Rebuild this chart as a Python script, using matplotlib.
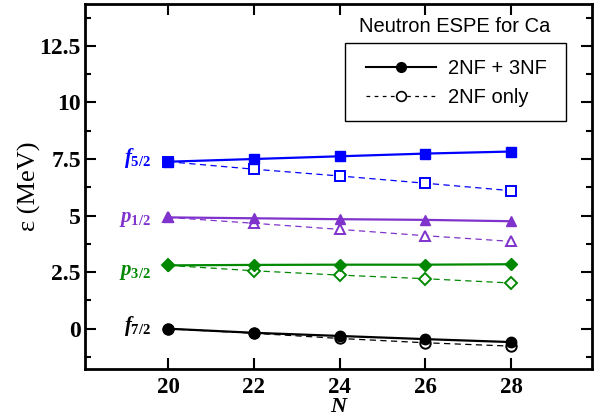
import matplotlib
matplotlib.use("Agg")
import matplotlib.pyplot as plt
from matplotlib.lines import Line2D
from matplotlib.patches import Rectangle

N = [20, 22, 24, 26, 28]

f52_full = [7.38, 7.50, 7.62, 7.74, 7.83]
f52_2nf = [7.38, 7.05, 6.75, 6.43, 6.10]
p12_full = [4.92, 4.88, 4.84, 4.81, 4.75]
p12_2nf = [4.92, 4.66, 4.39, 4.11, 3.86]
p32_full = [2.80, 2.82, 2.83, 2.83, 2.85]
p32_2nf = [2.80, 2.56, 2.37, 2.21, 2.02]
f72_full = [0.0, -0.18, -0.32, -0.46, -0.59]
f72_2nf = [0.0, -0.20, -0.43, -0.62, -0.77]

orbit_labels = [r'$f_{\rm 5/2}$', r'$p_{\rm 1/2}$', r'$p_{\rm 3/2}$', r'$f_{\rm 7/2}$']
legend_labels = ['2NF + 3NF', '2NF only']
title_text = 'Neutron ESPE for Ca'
x_ticks = [20, 22, 24, 26, 28]
y_ticks = [0, 2.5, 5, 7.5, 10, 12.5]
y_ticklabels = ['0', '2.5', '5', '7.5', '10', '12.5']

plt.rcParams['mathtext.fontset'] = 'custom'
plt.rcParams['mathtext.it'] = 'Liberation Serif:italic:bold'
plt.rcParams['mathtext.rm'] = 'Liberation Serif:bold'
plt.rcParams['mathtext.bf'] = 'Liberation Serif:bold'

W, H = 597, 416
fig = plt.figure(figsize=(W/100, H/100), dpi=100)
ax = fig.add_axes([85/W, 1-369/H, (592-85)/W, (369-4)/H])

series = [
    (f52_full, f52_2nf, '#0000ff', 's', 6.5, orbit_labels[0], 3),
    (p12_full, p12_2nf, '#7f33cc', '^', 7.5, orbit_labels[1], -1),
    (p32_full, p32_2nf, '#008800', 'D', 6.0, orbit_labels[2], -5),
    (f72_full, f72_2nf, '#000000', 'o', 7.5, orbit_labels[3], 2),
]

for full, two, color, mk, ms, lab, dy in series:
    ax.plot(N, two, color=color, lw=0.9, ls=(0, (5, 3.5)), marker=mk, ms=ms,
            mfc='white', mec=color, mew=1.4, zorder=2)
    ax.plot(N, full, color=color, lw=1.6, ls='-', marker=mk, ms=ms,
            mfc=color, mec=color, zorder=3)
    ax.annotate(lab, xy=(N[0], full[0]), xytext=(-12, dy), textcoords='offset points',
                ha='right', va='center', color=color, fontsize=15)

ax.set_xlim(18.06, 29.89)
ax.set_ylim(-1.78, 14.35)
ax.set_xticks(x_ticks)
ax.set_yticks(y_ticks)
ax.set_yticklabels(y_ticklabels)
ax.set_yticks([v + 1.25 for v in [-2.5, 0, 2.5, 5, 7.5, 10, 12.5]], minor=True)
ax.tick_params(axis='both', which='major', direction='in', length=8, width=1.5,
               top=True, right=True)
ax.tick_params(axis='x', which='major', pad=6)
ax.tick_params(axis='y', which='major', pad=3)
ax.tick_params(axis='y', which='minor', direction='in', length=4.5, width=1.5, right=True)
for lbl in ax.get_yticklabels():
    lbl.set_fontfamily('Liberation Serif')
    lbl.set_fontweight('bold')
    lbl.set_fontsize(17)
for lbl in ax.get_xticklabels():
    lbl.set_fontfamily('Liberation Serif')
    lbl.set_fontweight('bold')
    lbl.set_fontsize(16.5)
for sp in ax.spines.values():
    sp.set_linewidth(2.0)

ax.set_xlabel('N', fontfamily='Liberation Serif', fontstyle='italic', fontweight='bold',
              fontsize=16, labelpad=-1)
ax.set_ylabel('ε (MeV)', fontfamily='Liberation Serif', fontsize=19, labelpad=-1)

handles = [
    Line2D([], [], color='black', lw=1.5, marker='o', ms=7, mfc='black'),
    Line2D([], [], color='black', lw=0.9, ls=(0, (3, 3.5)), marker='o', ms=7,
           mfc='white', mew=1.2),
]
box = Rectangle((345/W, 1-121/H), (566-345)/W, (121-43)/H,
                transform=fig.transFigure, fill=True, facecolor='white',
                edgecolor='black', lw=1.0, zorder=4, clip_on=False)
ax.add_patch(box)

leg = ax.legend(handles, legend_labels, loc='center left',
                bbox_to_anchor=(366/W, 1-83/H), bbox_transform=fig.transFigure,
                borderaxespad=0, borderpad=0, handlelength=3.48, handletextpad=0.6,
                labelspacing=0.52, numpoints=1, frameon=False,
                prop={'family': 'Liberation Sans', 'size': 14.5})
leg.set_zorder(6)

fig.text(455/W, 1-27/H, title_text, ha='center', va='center',
         fontfamily='Liberation Sans', fontsize=14.5)

fig.savefig('out.png', dpi=100)
